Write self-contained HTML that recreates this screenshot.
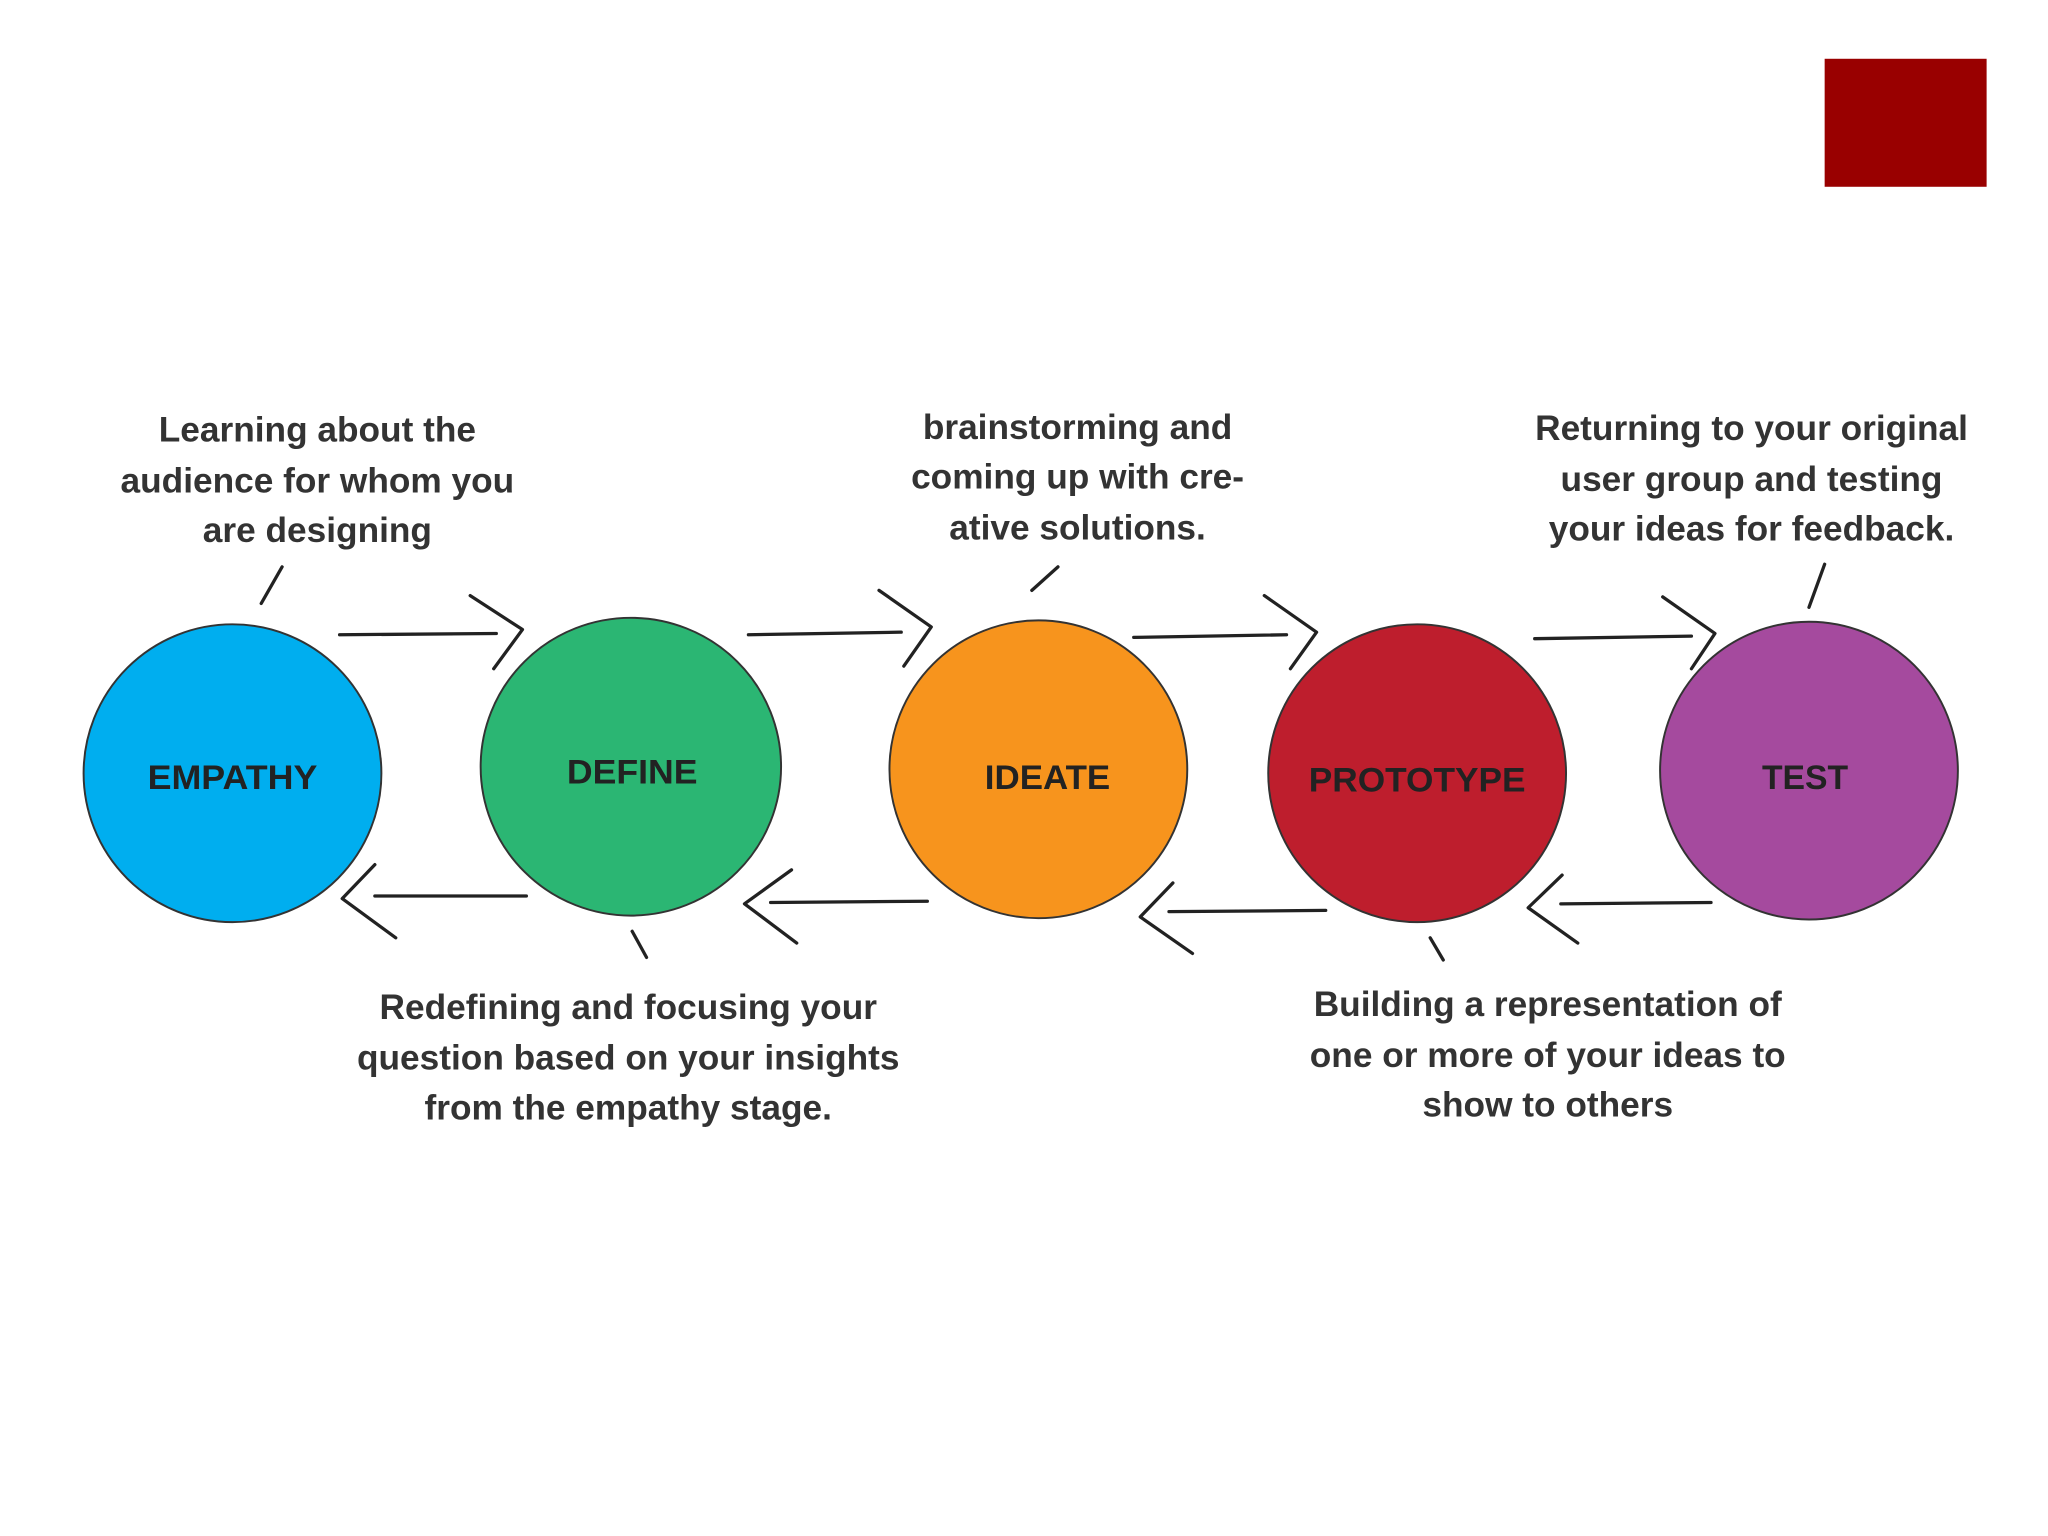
<!DOCTYPE html>
<html><head><meta charset="utf-8">
<style>
html,body{margin:0;padding:0;background:#fff;}
svg{display:block;}
.t{font-family:"Liberation Sans",sans-serif;font-weight:bold;font-size:27px;fill:#333;text-anchor:middle;}
.c{font-family:"Liberation Sans",sans-serif;font-weight:bold;font-size:26px;fill:#222;text-anchor:middle;}
.l{stroke:#222;stroke-width:2.5;fill:none;stroke-linecap:round;stroke-linejoin:round;}
</style></head>
<body>
<svg width="2048" height="1536" viewBox="0 0 1568 1176" xmlns="http://www.w3.org/2000/svg">
<rect x="0" y="0" width="1568" height="1176" fill="#fff"/>
<rect x="1397" y="45" width="124" height="98" fill="#990000"/>

<g stroke="#333" stroke-width="1.5">
<ellipse cx="178" cy="592" rx="114" ry="114" fill="#00aeef"/>
<ellipse cx="483" cy="587" rx="115" ry="114" fill="#2bb673"/>
<ellipse cx="795" cy="589" rx="114" ry="114" fill="#f7941d"/>
<ellipse cx="1085" cy="592" rx="114" ry="114" fill="#be1e2d"/>
<ellipse cx="1385" cy="590" rx="114" ry="114" fill="#a54a9e"/>
</g>

<text class="c" x="178" y="604" textLength="130" lengthAdjust="spacingAndGlyphs">EMPATHY</text>
<text class="c" x="484" y="600" textLength="100" lengthAdjust="spacingAndGlyphs">DEFINE</text>
<text class="c" x="802" y="604" textLength="96" lengthAdjust="spacingAndGlyphs">IDEATE</text>
<text class="c" x="1085" y="606" textLength="166" lengthAdjust="spacingAndGlyphs">PROTOTYPE</text>
<text class="c" x="1382" y="604" textLength="66" lengthAdjust="spacingAndGlyphs">TEST</text>

<!-- forward arrows -->
<path class="l" d="M260 486 L380 485 M360 456 L400 482 L378 512"/>
<path class="l" d="M573 486 L690 484 M673 452 L713 480 L692 510"/>
<path class="l" d="M868 488 L985 486 M968 456 L1008 484 L988 512"/>
<path class="l" d="M1175 489 L1295 487 M1273 457 L1313 485 L1295 512"/>
<!-- backward arrows -->
<path class="l" d="M287 686 L403 686 M287 662 L262 688 L303 718"/>
<path class="l" d="M590 691 L710 690 M606 666 L570 692 L610 722"/>
<path class="l" d="M895 698 L1015 697 M898 676 L873 702 L913 730"/>
<path class="l" d="M1195 692 L1310 691 M1196 670 L1170 695 L1208 722"/>
<!-- ticks -->
<path class="l" d="M216 434 L200 462"/>
<path class="l" d="M810 434 L790 452"/>
<path class="l" d="M1397 432 L1385 465"/>
<path class="l" d="M484 713 L495 733"/>
<path class="l" d="M1095 718 L1105 735"/>

<text class="t" x="243" y="338">Learning about the</text>
<text class="t" x="243" y="377">audience for whom you</text>
<text class="t" x="243" y="415">are designing</text>

<text class="t" x="825" y="336">brainstorming and</text>
<text class="t" x="825" y="374">coming up with cre-</text>
<text class="t" x="825" y="413">ative solutions.</text>

<text class="t" x="1341" y="337">Returning to your original</text>
<text class="t" x="1341" y="376">user group and testing</text>
<text class="t" x="1341" y="414">your ideas for feedback.</text>

<text class="t" x="481" y="780">Redefining and focusing your</text>
<text class="t" x="481" y="819">question based on your insights</text>
<text class="t" x="481" y="857">from the empathy stage.</text>

<text class="t" x="1185" y="778">Building a representation of</text>
<text class="t" x="1185" y="817">one or more of your ideas to</text>
<text class="t" x="1185" y="855">show to others</text>
</svg>
</body></html>
